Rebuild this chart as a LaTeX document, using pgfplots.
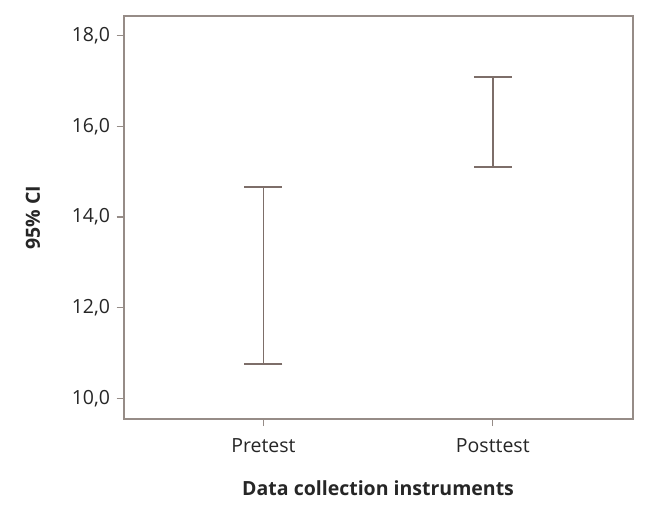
\documentclass[border=0pt]{standalone}
\usepackage{pgfplots}
\pgfplotsset{compat=1.18}
\usepackage{fontspec}
\setmainfont{Open Sans}
\definecolor{axc}{RGB}{150,140,135}
\definecolor{barc}{RGB}{125,110,105}
\begin{document}
\begin{tikzpicture}
\useasboundingbox (-123.5pt,-93pt) rectangle (526.3pt,419pt);
\begin{axis}[
  at={(0,0)}, anchor=south west,
  scale only axis,
  width=509pt, height=403pt,
  xmin=-0.61, xmax=1.61,
  ymin=9.543, ymax=18.435,
  xtick={0,1}, xticklabels={Pretest,Posttest},
  ytick={10,12,14,16,18},
  tick align=outside,
  major tick length=7pt,
  tick style={axc, line width=1.2pt},
  axis line style={axc, line width=2pt},
  xtick pos=bottom, ytick pos=left,
  yticklabel style={xshift=-3pt, /pgf/number format/.cd, fixed, fixed zerofill, precision=1, use comma, assume math mode=true},
  xticklabel style={yshift=-9pt},
  ticklabel style={font=\fontsize{19.5}{22}\selectfont, text=black!85},
  label style={font=\fontsize{19.5}{23}\selectfont\bfseries, text=black!85},
  xlabel={Data collection instruments},
  ylabel={95\% CI},
  xlabel style={at={(axis description cs:0.5,-0.171)}, anchor=center},
  ylabel style={at={(axis description cs:-0.178,0.5)}, anchor=center},
]
\addplot[mark=none, draw=none,
  error bars/.cd, y dir=both, y explicit,
  error bar style={draw=barc, line width=1.8pt},
  error mark options={rotate=90, mark size=19pt, draw=barc, line width=1.8pt}]
  coordinates {
    (0,12.7065) +- (0,1.9495)
    (1,16.0895) +- (0,0.9925)
  };
\end{axis}
\end{tikzpicture}
\end{document}
